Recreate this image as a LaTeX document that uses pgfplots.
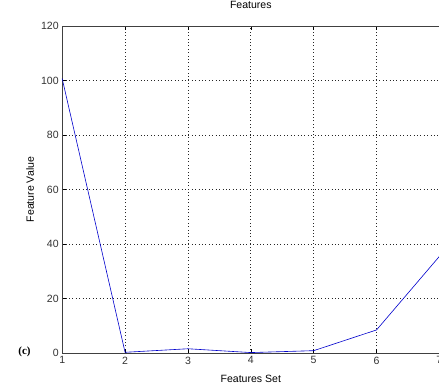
\documentclass[border=0pt]{standalone}
\usepackage{fontspec}
\setmainfont{Liberation Sans}
\newfontfamily\serifbold{Liberation Serif}
\usepackage{pgfplots}
\pgfplotsset{compat=1.18}
\begin{document}
\begin{tikzpicture}
\begin{axis}[
  at={(0,0)}, anchor=south west,
  scale only axis,
  width=376pt, height=326pt,
  xmin=1, xmax=7, ymin=0, ymax=120,
  clip=false,
  xtick={1,2,3,4,5,6,7},
  ytick={0,20,40,60,80,100,120},
  grid=major,
  major grid style={black!85, line width=0.6pt, dash pattern=on 0.8pt off 2.6pt},
  axis line style={black!75, line width=0.6pt},
  tick style={black, line width=0.5pt},
  major tick length=4pt,
  tick align=inside,
  ytick pos=left,
  xtick pos=both,
  /pgf/number format/assume math mode=true,
  tick label style={font=\fontsize{10.5}{12}\selectfont, text=black!80},
  title={Features},
  title style={font=\fontsize{10.5}{12}\selectfont, at={(axis description cs:0.5,1.046)}, anchor=center},
  xlabel={Features Set},
  xlabel style={font=\fontsize{10.5}{12}\selectfont, at={(axis description cs:0.5,-0.08)}, anchor=center},
  ylabel={Feature Value},
  ylabel style={font=\fontsize{10.5}{12}\selectfont, at={(axis description cs:-0.085,0.5)}, anchor=center, rotate=0},
]
\addplot[color=blue!80!black, line width=0.6pt] coordinates {
  (1,100.7) (2,0.3) (3,1.6) (4,0.2) (5,0.9) (6,8.5) (7,35.5)
};
\node[font=\serifbold\bfseries\fontsize{11}{13}\selectfont, anchor=center] at (axis description cs:-0.1,0.003) {(c)};
\end{axis}
\pgfresetboundingbox
\path[use as bounding box] (-62pt,-35pt) rectangle (375.6pt,352pt);
\end{tikzpicture}
\end{document}
